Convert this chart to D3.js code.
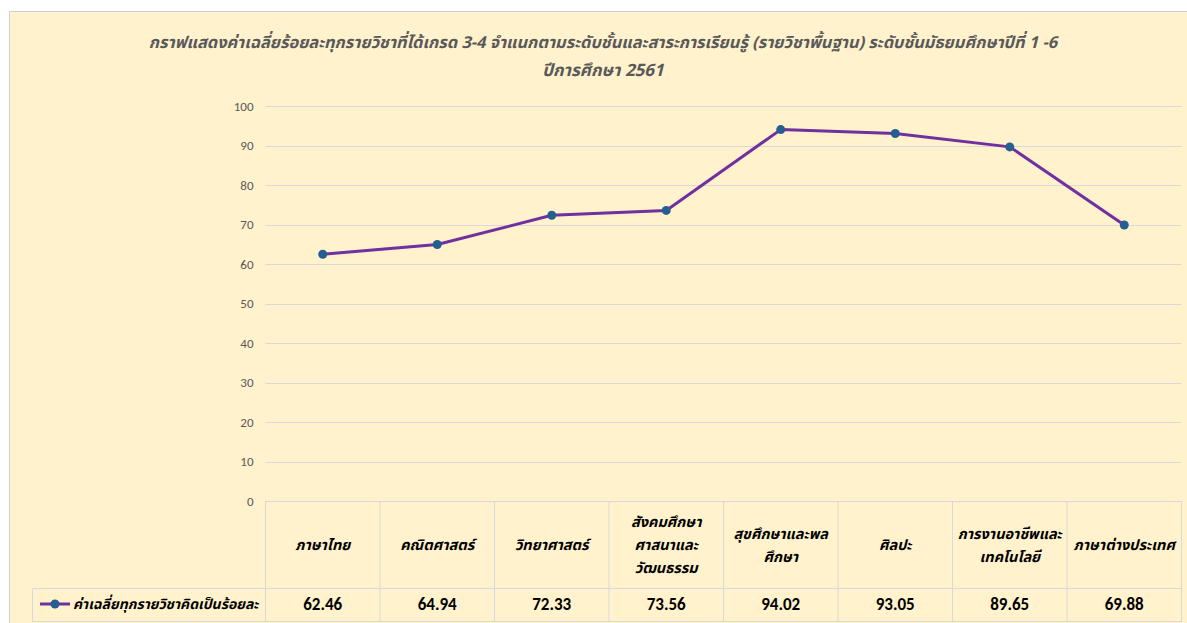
<!DOCTYPE html>
<html><head><meta charset="utf-8">
<script src="https://cdn.jsdelivr.net/npm/d3@7"></script>
<style>
body{margin:0;background:#fff;}
svg{display:block;}
.thai{font-family:"Noto Sans Thai","Noto Serif Thai","Loma","Garuda","Tlwg Typo","Noto Sans",sans-serif;}
</style></head>
<body><svg id="c" width="1187" height="623"></svg>
<script>
const categories = [
  ["ภาษาไทย"],
  ["คณิตศาสตร์"],
  ["วิทยาศาสตร์"],
  ["สังคมศึกษา","ศาสนาและ","วัฒนธรรม"],
  ["สุขศึกษาและพล","ศึกษา"],
  ["ศิลปะ"],
  ["การงานอาชีพและ","เทคโนโลยี"],
  ["ภาษาต่างประเทศ"]
];
const values = [62.46, 64.94, 72.33, 73.56, 94.02, 93.05, 89.65, 69.88];
const yTicks = [0,10,20,30,40,50,60,70,80,90,100];
const seriesName = "ค่าเฉลี่ยทุกรายวิชาคิดเป็นร้อยละ";
const titleLines = ["กราฟแสดงค่าเฉลี่ยร้อยละทุกรายวิชาที่ได้เกรด 3-4 จำแนกตามระดับชั้นและสาระการเรียนรู้ (รายวิชาพื้นฐาน) ระดับชั้นมัธยมศึกษาปีที่ 1 -6","ปีการศึกษา 2561"];

const svg = d3.select("#c");
const bg = "#FFF2CC", gridC = "#D9D9D9", textC = "#595959";
svg.append("rect").attr("x",9.5).attr("y",11.5).attr("width",1190).attr("height",630)
  .attr("fill",bg).attr("stroke","#D0D0D0");

const pLeft = 265.5, pRight = 1181.5, pTop = 106, pBottom = 501;
const x = d3.scaleBand().domain(d3.range(categories.length)).range([pLeft,pRight]);
const y = d3.scaleLinear().domain([0,100]).range([pBottom,pTop]);

// title
titleLines.forEach((l,i)=>svg.append("text").attr("class","thai").attr("fill",textC)
  .attr("font-size",i===0?16.4:17).attr("font-weight","bold").attr("font-style","italic")
  .attr("text-anchor","middle").attr("x",603).attr("y",48+i*28).text(l));

// gridlines + y axis
const yAxis = d3.axisLeft(y).tickValues(yTicks).tickSize(0).tickPadding(12);
const ga = svg.append("g").attr("transform",`translate(${pLeft},0)`).call(yAxis);
ga.select(".domain").remove();
ga.selectAll("text").attr("fill",textC).attr("font-size",13).attr("font-family","Carlito, 'Liberation Sans', Arial, sans-serif");
svg.append("g").selectAll("line").data(yTicks.filter(d=>d>0)).join("line")
  .attr("x1",pLeft).attr("x2",pRight).attr("y1",d=>Math.round(y(d))+0.5).attr("y2",d=>Math.round(y(d))+0.5)
  .attr("stroke",gridC).attr("stroke-width",1);

// table
const rowBottom = 588, tableBottom = 621.5, legendLeft = 32.5;
const tb = svg.append("g").attr("stroke",gridC).attr("stroke-width",1).attr("fill","none");
tb.append("line").attr("x1",pLeft).attr("x2",pRight).attr("y1",pBottom+0.5).attr("y2",pBottom+0.5);
tb.append("line").attr("x1",legendLeft).attr("x2",pRight).attr("y1",rowBottom+0.5).attr("y2",rowBottom+0.5);
tb.append("line").attr("x1",legendLeft).attr("x2",pRight).attr("y1",tableBottom).attr("y2",tableBottom);
tb.append("line").attr("x1",legendLeft).attr("x2",legendLeft).attr("y1",rowBottom+0.5).attr("y2",tableBottom);
const edges = d3.range(categories.length+1).map(i=> i<categories.length ? x(i) : pRight);
tb.selectAll(".v").data(edges).join("line").attr("class","v")
  .attr("x1",d=>d).attr("x2",d=>d).attr("y1",pBottom).attr("y2",tableBottom);

// header labels
const hg = svg.append("g").attr("class","thai").attr("font-size",14.5).attr("font-weight","bold")
  .attr("font-style","italic").attr("fill","#000").attr("text-anchor","middle");
categories.forEach((lines,i)=>{
  const cx = x(i)+x.bandwidth()/2;
  const lh = 23, cy = 545;
  const y0 = cy - (lines.length-1)*lh/2;
  const tx = hg.append("text");
  lines.forEach((l,j)=>tx.append("tspan").attr("x",cx).attr("y",y0+j*lh+5).text(l));
});
// values row
svg.append("g").selectAll("text").data(values).join("text")
  .attr("x",(d,i)=>x(i)+x.bandwidth()/2).attr("y",610)
  .attr("text-anchor","middle").attr("font-size",17).attr("font-weight","bold")
  .attr("font-family","Carlito, 'Liberation Sans', Arial, sans-serif").attr("fill","#000")
  .text(d=>d.toFixed(2));
// legend key
const lg = svg.append("g");
lg.append("line").attr("x1",40).attr("x2",70).attr("y1",604).attr("y2",604).attr("stroke","#7030A0").attr("stroke-width",3);
lg.append("circle").attr("cx",55).attr("cy",604).attr("r",4.5).attr("fill","#255E91");
lg.append("text").attr("class","thai").attr("x",73).attr("y",609).attr("font-size",14)
  .attr("font-weight","bold").attr("font-style","italic").attr("fill","#000").text(seriesName);

// line + markers
const line = d3.line().x((d,i)=>x(i)+x.bandwidth()/2).y(d=>y(d));
svg.append("path").datum(values).attr("d",line).attr("fill","none")
  .attr("stroke","#7030A0").attr("stroke-width",3).attr("stroke-linejoin","round");
svg.append("g").selectAll("circle").data(values).join("circle")
  .attr("cx",(d,i)=>x(i)+x.bandwidth()/2).attr("cy",d=>y(d)).attr("r",4.5).attr("fill","#255E91");
</script></body></html>
